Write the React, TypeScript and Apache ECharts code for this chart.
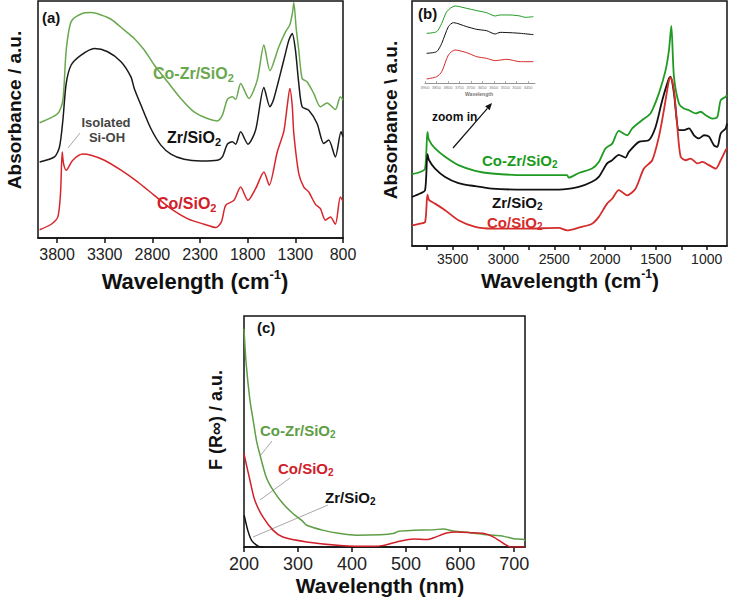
import React, { useEffect, useRef } from "react";
import * as echarts from "echarts";

const FONT = "'Liberation Sans', Arial, Helvetica, sans-serif";

// ---------- Panel (a): FTIR ----------
const aTicks = [800, 1300, 1800, 2300, 2800, 3300, 3800];
const aCoZrWave = [3983, 3792, 3739, 3704, 3652, 3548, 3443, 3338, 3234, 3094, 2990, 2885, 2780, 2641, 2502, 2362, 2223, 2118, 2066, 2013, 1961, 1926, 1874, 1787, 1700, 1630, 1567, 1473, 1403, 1358, 1330, 1316, 1290, 1264, 1229, 1177, 1107, 1037, 967, 880, 828, 800];
const aCoZrAbs = [48.6, 52.5, 58.2, 79.3, 91.3, 94.5, 95.1, 94.1, 92.3, 87.7, 84.2, 79.3, 73.0, 65.9, 58.9, 53.2, 50.4, 49.4, 51.8, 58.5, 59.6, 58.5, 65.2, 58.9, 66.6, 81.4, 70.6, 80.7, 87.0, 89.9, 95.0, 99.3, 88.0, 79.3, 67.3, 65.9, 61.0, 55.4, 57.0, 54.2, 59.6, 58.2];
const aZrWave = [3983, 3827, 3774, 3739, 3704, 3652, 3548, 3408, 3269, 3129, 3025, 2990, 2920, 2816, 2711, 2606, 2467, 2292, 2118, 2066, 2013, 1961, 1926, 1874, 1797, 1717, 1630, 1567, 1530, 1421, 1368, 1333, 1299, 1264, 1229, 1159, 1072, 1002, 950, 880, 821, 800];
const aZrAbs = [32.1, 34.2, 38.5, 49.7, 65.2, 73.0, 77.2, 80.0, 78.6, 74.4, 68.0, 63.1, 56.1, 46.2, 39.2, 35.4, 33.2, 32.5, 32.8, 34.2, 39.6, 40.6, 39.6, 44.8, 39.6, 45.5, 63.5, 55.4, 58.2, 75.1, 83.5, 86.3, 79.3, 65.2, 55.4, 53.9, 48.3, 39.9, 41.3, 34.2, 44.8, 42.7];
const aCoWave = [3983, 3861, 3792, 3764, 3746, 3732, 3704, 3635, 3530, 3443, 3303, 3129, 2955, 2780, 2606, 2432, 2257, 2135, 2076, 2031, 1944, 1874, 1797, 1717, 1630, 1574, 1490, 1421, 1386, 1358, 1333, 1316, 1264, 1211, 1159, 1089, 1037, 985, 932, 880, 828, 800];
const aCoAbs = [3.5, 5.8, 8.9, 18.7, 36.3, 31.4, 28.6, 32.8, 35.4, 34.9, 32.8, 28.6, 23.7, 18.0, 12.4, 8.2, 5.8, 4.4, 6.8, 13.8, 15.9, 21.5, 15.9, 20.8, 27.9, 22.3, 36.3, 45.0, 55.4, 63.1, 56.0, 44.1, 27.2, 21.5, 19.4, 14.2, 12.4, 7.5, 8.9, 5.8, 17.3, 15.6];

// ---------- Panel (b): DRIFT ----------
const bLabelTicks = [1000, 1500, 2000, 2500, 3000, 3500];
const bMinorTicks = [1000, 1250, 1500, 1750, 2000, 2250, 2500, 2750, 3000, 3250, 3500, 3750];
const bCoZrWave = [3900, 3820, 3771, 3748, 3732, 3673, 3574, 3443, 3278, 3114, 2785, 2456, 2374, 2358, 2259, 2128, 2062, 1996, 1930, 1865, 1782, 1733, 1634, 1569, 1536, 1470, 1404, 1371, 1348, 1322, 1273, 1224, 1174, 1108, 1059, 1010, 944, 895, 862, 813, 800];
const bCoZrAbs = [29.3, 30.2, 31.6, 46.6, 43.2, 39.8, 36.4, 33.0, 30.7, 29.6, 28.9, 28.9, 28.9, 27.9, 29.8, 31.6, 34.3, 39.8, 41.8, 47.0, 45.2, 48.0, 51.4, 53.4, 55.4, 62.3, 71.8, 80.0, 89.8, 69.1, 58.2, 56.1, 55.4, 54.1, 54.8, 53.4, 52.0, 52.7, 59.5, 60.9, 61.6];
const bZrWave = [3900, 3820, 3771, 3748, 3732, 3673, 3574, 3443, 3278, 3114, 2785, 2456, 2259, 2128, 2062, 1980, 1930, 1865, 1799, 1766, 1667, 1569, 1503, 1437, 1371, 1355, 1322, 1273, 1224, 1174, 1125, 1076, 1026, 977, 928, 895, 862, 813, 800];
const bZrAbs = [20.0, 21.4, 22.8, 37.5, 35.0, 31.6, 28.2, 25.7, 24.4, 23.4, 23.0, 23.0, 24.1, 26.2, 28.2, 33.7, 35.0, 37.2, 36.1, 38.4, 42.5, 43.2, 48.6, 59.5, 68.4, 69.1, 62.3, 47.3, 47.3, 48.0, 45.2, 43.9, 45.2, 44.6, 41.1, 40.5, 45.9, 48.0, 50.0];
const bCoWave = [3900, 3820, 3771, 3748, 3732, 3673, 3574, 3443, 3278, 3114, 2785, 2456, 2374, 2259, 2128, 2062, 1980, 1930, 1865, 1782, 1700, 1618, 1536, 1470, 1421, 1371, 1355, 1322, 1289, 1256, 1207, 1158, 1092, 1043, 977, 911, 862, 813, 800];
const bCoAbs = [8.4, 9.1, 9.8, 21.0, 18.7, 17.3, 14.6, 10.5, 7.8, 7.1, 7.1, 7.4, 6.4, 7.5, 9.1, 11.9, 17.3, 19.3, 22.8, 20.7, 23.4, 31.6, 35.0, 44.6, 55.4, 67.7, 68.8, 63.6, 48.6, 36.4, 35.0, 35.7, 33.7, 34.3, 33.0, 31.6, 35.0, 39.1, 40.0];

// ---------- Panel (b) inset ----------
const insetTicks = [3450, 3500, 3550, 3600, 3650, 3700, 3750, 3800, 3850, 3900];
const inCoZrWave = [3893, 3849, 3827, 3805, 3769, 3718, 3674, 3631, 3594, 3572, 3529, 3485, 3463, 3427];
const inCoZrAbs = [62.9, 65.0, 75.5, 90.3, 97.5, 94.5, 91.6, 89.0, 84.8, 86.1, 86.1, 84.8, 83.1, 84.0];
const inZrWave = [3893, 3849, 3827, 3798, 3776, 3718, 3674, 3631, 3594, 3572, 3529, 3485, 3427];
const inZrAbs = [37.6, 39.7, 50.2, 71.3, 76.4, 71.3, 67.9, 66.2, 62.0, 64.1, 63.7, 62.9, 61.2];
const inCoWave = [3893, 3849, 3827, 3798, 3769, 3718, 3674, 3631, 3594, 3543, 3485, 3427];
const inCoAbs = [5.1, 8.0, 14.3, 35.4, 41.8, 38.4, 33.3, 31.2, 28.3, 30.0, 27.0, 27.0];

// ---------- Panel (c): UV-vis DRS ----------
const cTicks = [200, 300, 400, 500, 600, 700];
const cCoZrNm = [200, 204, 211, 217, 223, 229, 241, 254, 272, 291, 307, 316, 347, 378, 408, 452, 476, 486, 514, 551, 569, 588, 619, 650, 681, 699, 718, 720];
const cCoZrF = [94.5, 79.4, 63.5, 54.8, 46.2, 40.4, 30.3, 24.5, 18.8, 14.4, 11.5, 9.4, 7.2, 5.8, 5.1, 5.3, 5.8, 6.8, 7.2, 7.5, 7.8, 6.9, 6.2, 5.3, 4.6, 3.6, 3.2, 2.6];
const cCoNm = [200, 204, 211, 220, 235, 254, 272, 316, 378, 439, 458, 483, 514, 538, 551, 575, 594, 619, 644, 662, 681, 693, 720];
const cCoF = [40.4, 36.1, 28.9, 20.2, 13.0, 7.2, 4.3, 2.2, 0.7, 0.3, 0.7, 2.2, 3.5, 3.2, 4.0, 6.1, 6.5, 6.2, 5.8, 4.3, 1.4, 0, 0];
const cZrNm = [200, 201, 207, 214, 226, 235];
const cZrF = [13.7, 13.0, 7.2, 2.9, 0.4, 0];

const zip = (xs: number[], ys: number[]) => xs.map((x, i) => [x, ys[i]]);
const plain = (v: number) => String(v);

const line = (xi: number, data: number[][], color: string, width = 1.5) => ({
  type: "line",
  xAxisIndex: xi,
  yAxisIndex: xi,
  data,
  showSymbol: false,
  smooth: 0.25,
  lineStyle: { color, width },
  itemStyle: { color },
  silent: true,
});

const txt = (x: number, y: number, text: string, size: number, fill: string, align = "left", extra: any = {}) => ({
  type: "text",
  x,
  y,
  silent: true,
  ...extra,
  style: {
    text,
    fill,
    fontSize: size,
    fontWeight: "bold",
    fontFamily: FONT,
    align,
    verticalAlign: "middle",
    textAlign: align,
    textVerticalAlign: "middle",
  },
});

const subLabel = (x: number, y: number, main: string, size: number, fill: string) => ({
  type: "text",
  x,
  y,
  silent: true,
  style: {
    text: `{m|${main}}{s|2}`,
    align: "left",
    verticalAlign: "middle",
    rich: {
      m: { fontSize: size, fontWeight: "bold", fontFamily: FONT, fill, lineHeight: size + 4 },
      s: { fontSize: Math.round(size * 0.68), fontWeight: "bold", fontFamily: FONT, fill, lineHeight: Math.round(size * 0.68), verticalAlign: "bottom" },
    },
  },
});

const supTitle = (x: number, y: number, size: number) => ({
  type: "text",
  x,
  y,
  silent: true,
  style: {
    text: "{t|Wavelength (cm}{p|-1}{t|)}",
    align: "center",
    verticalAlign: "middle",
    rich: {
      t: { fontSize: size, fontWeight: "bold", fontFamily: FONT, fill: "#111", lineHeight: size + 4 },
      p: { fontSize: Math.round(size * 0.58), fontWeight: "bold", fontFamily: FONT, fill: "#111", lineHeight: Math.round(size * 0.58), verticalAlign: "top" },
    },
  },
});

const leader = (x1: number, y1: number, x2: number, y2: number) => ({
  type: "line",
  silent: true,
  shape: { x1, y1, x2, y2 },
  style: { stroke: "#a8a8a8", lineWidth: 1 },
});

const tickStyle = { color: "#111", width: 1.5 };

export default function App() {
  const ref = useRef<HTMLDivElement>(null);
  useEffect(() => {
    if (!ref.current) return;
    const chart = echarts.init(ref.current, null, { renderer: "svg" });
    const gridBase = { show: true, borderColor: "#111", borderWidth: 1.5, backgroundColor: "transparent", containLabel: false, outerBoundsMode: "none" };
    const hiddenY = (gi: number) => ({ gridIndex: gi, type: "value", min: 0, max: 100, show: false });
    // arrow geometry for "zoom in"
    const ax1 = 453, ay1 = 148, ax2 = 492, ay2 = 103;
    const len = Math.hypot(ax2 - ax1, ay2 - ay1);
    const ux = (ax2 - ax1) / len, uy = (ay2 - ay1) / len;
    const bx = ax2 - ux * 7, by = ay2 - uy * 7;
    const option: any = {
      animation: false,
      textStyle: { fontFamily: FONT },
      grid: [
        { ...gridBase, left: 38, top: 1, width: 305, height: 237 },
        { ...gridBase, left: 412, top: 1, width: 315, height: 245 },
        { ...gridBase, left: 244, top: 316, width: 281, height: 231 },
        { left: 425, top: 4, width: 110, height: 79, show: false, containLabel: false, outerBoundsMode: "none" },
      ],
      xAxis: [
        {
          gridIndex: 0, type: "value", min: 800, max: 4000, inverse: true,
          axisLine: { show: true, lineStyle: tickStyle },
          axisTick: { show: true, customValues: aTicks, length: 5, lineStyle: tickStyle },
          axisLabel: { customValues: aTicks, formatter: plain, fontSize: 16, color: "#222", margin: 8, fontFamily: FONT },
          splitLine: { show: false },
        },
        {
          gridIndex: 1, type: "value", min: 800, max: 3900, inverse: true,
          axisLine: { show: true, lineStyle: tickStyle },
          axisTick: { show: true, customValues: bMinorTicks, length: 4, lineStyle: tickStyle },
          axisLabel: { customValues: bLabelTicks, formatter: plain, fontSize: 14, color: "#222", margin: 6, fontFamily: FONT },
          splitLine: { show: false },
        },
        {
          gridIndex: 2, type: "value", min: 200, max: 720,
          axisLine: { show: true, lineStyle: tickStyle },
          axisTick: { show: true, customValues: cTicks, length: 5, lineStyle: tickStyle },
          axisLabel: { customValues: cTicks, formatter: plain, fontSize: 18, color: "#222", margin: 8, fontFamily: FONT },
          splitLine: { show: false },
        },
        {
          gridIndex: 3, type: "value", min: 3420, max: 3900, inverse: true,
          axisLine: { show: true, lineStyle: { color: "#777", width: 0.8 } },
          axisTick: { show: true, inside: true, customValues: insetTicks, length: 2, lineStyle: { color: "#777", width: 0.6 } },
          axisLabel: { customValues: insetTicks, formatter: plain, fontSize: 4, color: "#777", margin: 2, fontFamily: FONT },
          splitLine: { show: false },
        },
      ],
      yAxis: [hiddenY(0), hiddenY(1), hiddenY(2), hiddenY(3)],
      series: [
        line(0, zip(aCoZrWave, aCoZrAbs), "#6aa84f"),
        line(0, zip(aZrWave, aZrAbs), "#1a1a1a"),
        line(0, zip(aCoWave, aCoAbs), "#d7262b"),
        line(1, zip(bCoZrWave, bCoZrAbs), "#1f9a22", 1.8),
        line(1, zip(bZrWave, bZrAbs), "#111111", 1.8),
        line(1, zip(bCoWave, bCoAbs), "#d42b2b", 1.8),
        line(3, zip(inCoZrWave, inCoZrAbs), "#1f9a22", 1),
        line(3, zip(inZrWave, inZrAbs), "#111111", 1),
        line(3, zip(inCoWave, inCoAbs), "#d42b2b", 1),
        line(2, zip(cCoZrNm, cCoZrF), "#5e9e46"),
        line(2, zip(cCoNm, cCoF), "#d0202a"),
        line(2, zip(cZrNm, cZrF), "#111111"),
      ],
      graphic: [
        // panel (a)
        txt(42, 17, "(a)", 15, "#111"),
        subLabel(153, 73, "Co-Zr/SiO", 16, "#6aa84f"),
        subLabel(167, 137, "Zr/SiO", 16, "#111"),
        subLabel(157, 203, "Co/SiO", 16, "#d0202a"),
        txt(106, 122, "Isolated", 13, "#444", "center"),
        txt(107, 137, "Si-OH", 13, "#444", "center"),
        leader(80, 133, 68, 148),
        txt(14, 110, "Absorbance / a.u.", 19, "#111", "center", { rotation: Math.PI / 2 }),
        supTitle(195, 281, 22),
        // panel (b)
        txt(418, 13, "(b)", 15, "#111"),
        subLabel(482, 160, "Co-Zr/SiO", 15, "#1a9a1a"),
        subLabel(492, 202, "Zr/SiO", 15, "#111"),
        subLabel(487, 222, "Co/SiO", 15, "#d42b2b"),
        txt(432, 117, "zoom in", 12, "#111"),
        { type: "line", silent: true, shape: { x1: ax1, y1: ay1, x2: bx, y2: by }, style: { stroke: "#111", lineWidth: 1.2 } },
        {
          type: "polygon", silent: true,
          shape: { points: [[ax2, ay2], [bx + uy * 3, by - ux * 3], [bx - uy * 3, by + ux * 3]] },
          style: { fill: "#111" },
        },
        txt(479, 94, "Wavelength", 5, "#777", "center", {}),
        txt(390, 120, "Absorbance \\ a.u.", 19, "#111", "center", { rotation: Math.PI / 2 }),
        supTitle(570, 280, 21),
        // panel (c)
        txt(257, 327, "(c)", 15, "#111"),
        subLabel(260, 430, "Co-Zr/SiO", 15, "#5e9e46"),
        subLabel(278, 468, "Co/SiO", 15, "#d0202a"),
        subLabel(325, 497, "Zr/SiO", 15, "#111"),
        leader(272, 441, 260, 456),
        leader(290, 478, 260, 500),
        leader(328, 505, 253, 537),
        txt(216, 420, "F (R\u221E) / a.u.", 18, "#111", "center", { rotation: Math.PI / 2 }),
        txt(380, 585, "Wavelength (nm)", 21, "#111", "center"),
      ],
    };
    chart.setOption(option);
    return () => chart.dispose();
  }, []);
  return (
    <div
      ref={ref}
      style={{ position: "absolute", left: 0, top: 0, width: 729, height: 599, background: "#fff" }}
    />
  );
}
